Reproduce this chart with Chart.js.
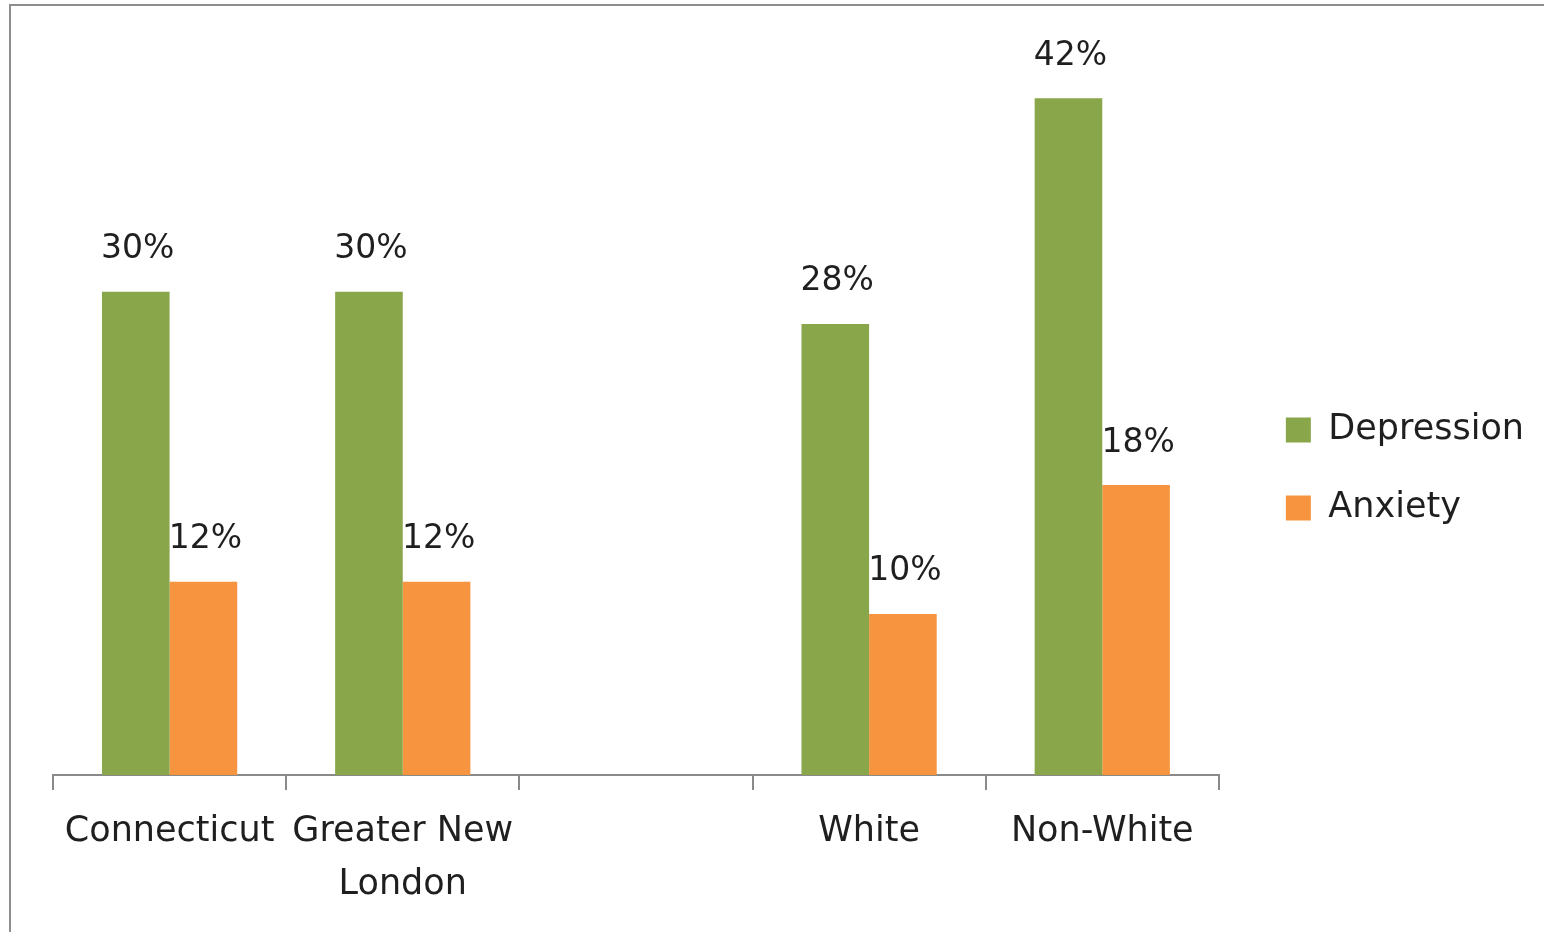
<!DOCTYPE html>
<html lang="en">
<head>
<meta charset="utf-8">
<title>Depression and Anxiety</title>
<script src="https://cdn.jsdelivr.net/npm/chart.js@4/dist/chart.umd.min.js"></script>
<style>
  html, body { margin: 0; padding: 0; background: #fff; }
  #wrap { width: 1544px; height: 932px; position: relative; }
</style>
</head>
<body>
<div id="wrap">
  <canvas id="chart-area"></canvas>
</div>

<script>
// chart data
var categories = ['Connecticut', ['Greater New', 'London'], '', 'White', 'Non-White'];
var depression = [30, 30, null, 28, 42];
var anxiety = [12, 12, null, 10, 18];
var seriesNames = ['Depression', 'Anxiety'];

var FONT = "'DejaVu Sans', sans-serif";
var TEXT = '#1f1f1f';

// value labels above each bar
var barLabels = {
  id: 'barLabels',
  afterDatasetsDraw: function(chart) {
    var ctx = chart.ctx;
    ctx.save();
    ctx.font = '33px ' + FONT;
    ctx.fillStyle = TEXT;
    ctx.textAlign = 'center';
    ctx.textBaseline = 'middle';
    chart.data.datasets.forEach(function(ds, i) {
      chart.getDatasetMeta(i).data.forEach(function(bar, j) {
        var v = ds.data[j];
        if (v == null) return;
        ctx.fillText(v + '%', bar.x + 2, bar.y - 42);
      });
    });
    ctx.restore();
  }
};

// outer frame
var frame = {
  id: 'frame',
  beforeDraw: function(chart) {
    var ctx = chart.ctx;
    ctx.save();
    ctx.strokeStyle = '#8e8e8e';
    ctx.lineWidth = 2;
    ctx.strokeRect(10, 5, chart.width + 20, chart.height + 20);
    ctx.restore();
  }
};

var config = {
  type: 'bar',
  data: {
    labels: categories,
    datasets: [{
      label: seriesNames[0],
      data: depression,
      backgroundColor: '#89a64b'
    }, {
      label: seriesNames[1],
      data: anxiety,
      backgroundColor: '#f7943f'
    }]
  },
  options: {
    responsive: true,
    maintainAspectRatio: false,
    animation: false,
    categoryPercentage: 0.58,
    barPercentage: 1.0,
    layout: {
      padding: { left: 53, top: 6, right: 10, bottom: 0 }
    },
    plugins: {
      tooltip: { enabled: false },
      // empty title used as top spacer above the plot only
      title: {
        display: true,
        text: '',
        fullSize: false,
        padding: 0,
        font: { size: 44, lineHeight: 1 }
      },
      legend: {
        position: 'right',
        labels: {
          boxWidth: 25,
          boxHeight: 25,
          padding: 43,
          color: TEXT,
          font: { family: FONT, size: 35 }
        }
      }
    },
    scales: {
      x: {
        grid: {
          display: true,
          drawOnChartArea: false,
          drawTicks: true,
          tickLength: 15,
          color: '#8a8a8a',
          lineWidth: 2
        },
        border: { display: true, color: '#8a8a8a', width: 2 },
        ticks: {
          color: TEXT,
          padding: 16,
          maxRotation: 0,
          autoSkip: false,
          font: { family: FONT, size: 35, lineHeight: 1.5 }
        },
        afterFit: function(s) { s.height = 157; }
      },
      y: {
        position: 'right',
        min: 0,
        max: 45,
        grid: { display: false },
        border: { display: false },
        ticks: { display: false },
        afterFit: function(s) { s.width = 24; }
      }
    }
  },
  plugins: [frame, barLabels]
};

window.onload = function() {
  var ctx = document.getElementById('chart-area').getContext('2d');
  window.myBar = new Chart(ctx, config);
};
</script>
</body>
</html>
